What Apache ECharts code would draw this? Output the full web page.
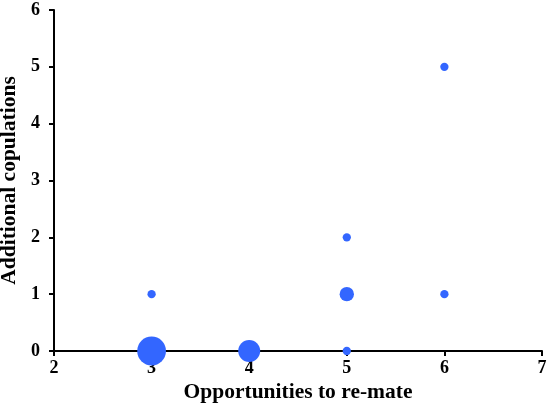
<!DOCTYPE html>
<html>
<head>
<meta charset="utf-8">
<script src="https://cdn.jsdelivr.net/npm/echarts@6/dist/echarts.min.js"></script>
<style>
  html, body { margin: 0; padding: 0; background: #fff; }
  #chart { width: 550px; height: 414px; }
</style>
</head>
<body>
<div id="chart"></div>
<script>
// data
const opportunities = [3, 3, 4, 5, 5, 5, 6, 6];
const copulations = [1, 0, 0, 2, 1, 0, 5, 1];
const counts = [1, 12, 7, 1, 3, 1, 1, 1];

const xTicks = [2, 3, 4, 5, 6, 7];
const yTicks = [0, 1, 2, 3, 4, 5, 6];

const chart = echarts.init(document.getElementById('chart'), null, { renderer: 'canvas' });

let points = [];
for (let i = 0; i < opportunities.length; i++) {
  points.push([opportunities[i], copulations[i], counts[i]]);
}

const option = {
  animation: false,
  backgroundColor: '#fff',
  textStyle: { fontFamily: 'Liberation Serif', fontWeight: 'bold', color: '#000' },
  grid: { left: 54, right: 8, top: 10, bottom: 63, containLabel: false, outerBoundsMode: 'none' },
  xAxis: {
    type: 'value',
    min: xTicks[0],
    max: xTicks[xTicks.length - 1],
    interval: 1,
    splitLine: { show: false },
    axisLine: { show: true, onZero: false, lineStyle: { color: '#000', width: 2 } },
    axisTick: { show: true, length: 5, lineStyle: { color: '#000', width: 2 } },
    name: 'Opportunities to re-mate',
    nameLocation: 'middle',
    nameGap: 27,
    nameTextStyle: { fontWeight: 'bold', fontSize: 21.5, color: '#000' },
    axisLabel: { margin: 8, fontSize: 18, fontWeight: 'bold', color: '#000' }
  },
  yAxis: {
    type: 'value',
    min: yTicks[0],
    max: yTicks[yTicks.length - 1],
    interval: 1,
    splitLine: { show: false },
    axisLine: { show: true, onZero: false, lineStyle: { color: '#000', width: 2 } },
    axisTick: { show: true, length: 5, lineStyle: { color: '#000', width: 2 } },
    name: 'Additional copulations',
    nameLocation: 'middle',
    nameGap: 28,
    nameRotate: 90,
    nameTextStyle: { fontWeight: 'bold', fontSize: 21.5, color: '#000' },
    axisLabel: { margin: 14, fontSize: 18, fontWeight: 'bold', color: '#000' }
  },
  series: [{
    type: 'scatter',
    data: points,
    symbol: 'circle',
    symbolSize: function (val) {
      return 8.3 * Math.sqrt(val[2]);
    },
    itemStyle: { color: '#3366ff', opacity: 1 },
    z: 1
  }]
};

chart.setOption(option);
</script>
</body>
</html>
